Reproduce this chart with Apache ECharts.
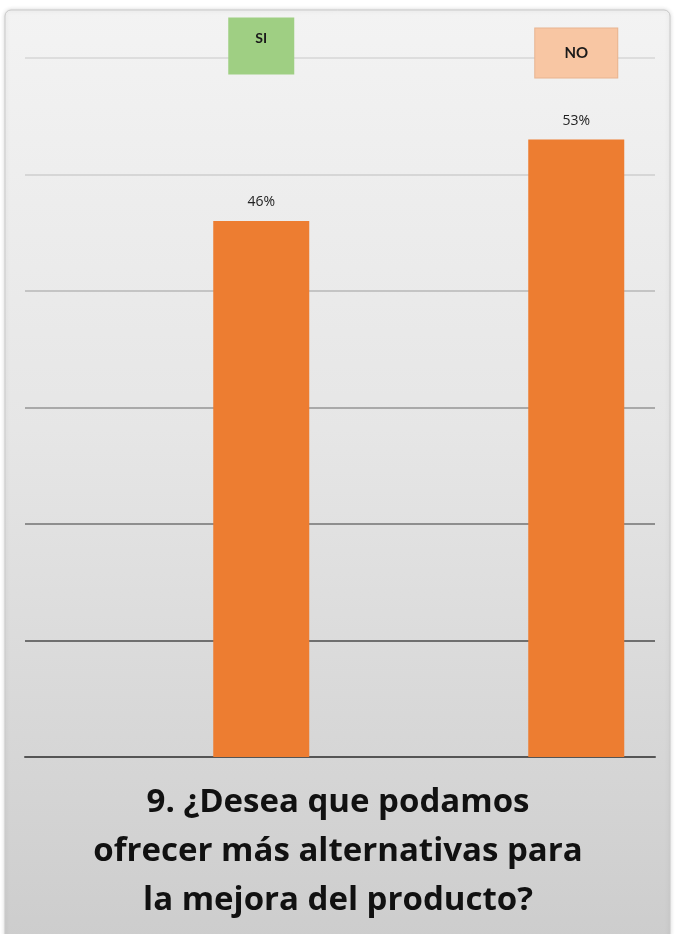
<!DOCTYPE html>
<html>
<head>
<meta charset="utf-8">
<script src="https://cdn.jsdelivr.net/npm/echarts@6/dist/echarts.min.js"></script>
<style>
html,body{margin:0;padding:0;background:#fff;}
#chart{width:676px;height:934px;}
</style>
</head>
<body>
<div id="chart"></div>
<script>
var categories = ['', 'SI', '', 'NO'];
var values = [null, 46, null, 53];
var yTicks = [0, 10, 20, 30, 40, 50, 60];
var titleText = '9. ¿Desea que podamos\nofrecer más alternativas para\nla mejora del producto?';

var chart = echarts.init(document.getElementById('chart'));
chart.setOption({
  animation: false,
  backgroundColor: '#ffffff',
  graphic: [{
    type: 'rect',
    z: -10,
    silent: true,
    shape: {x: 5, y: 10, width: 665, height: 930, r: 6},
    style: {
      fill: new echarts.graphic.LinearGradient(0, 0, 0, 1, [
        {offset: 0, color: '#f3f3f3'},
        {offset: 0.45, color: '#e6e6e6'},
        {offset: 1, color: '#cdcdcd'}
      ]),
      stroke: '#c9c9c9',
      lineWidth: 1,
      shadowBlur: 4,
      shadowColor: 'rgba(0,0,0,0.15)'
    }
  }],
  title: {
    text: titleText,
    left: 'center',
    top: 773,
    textStyle: {
      fontFamily: 'Open Sans',
      fontWeight: 'bold',
      fontSize: 33,
      lineHeight: 49,
      color: '#111'
    }
  },
  grid: {left: 25, right: 21, top: 58, bottom: 177, containLabel: false},
  xAxis: [{
    type: 'category',
    data: categories,
    position: 'bottom',
    axisLine: {show: true, lineStyle: {color: '#555', width: 2}},
    axisTick: {show: false},
    axisLabel: {show: false}
  }, {
    type: 'category',
    data: categories,
    position: 'top',
    axisLine: {show: false},
    axisTick: {show: false},
    axisLabel: {
      show: true,
      margin: -3,
      formatter: function (v) {
        if (v === 'SI') return '{si|SI}\n{gap| }';
        if (v === 'NO') return '{no|NO}';
        return '';
      },
      rich: {
        si: {
          backgroundColor: '#9fcf83',
          width: 66, align: 'center',
          padding: [14, 0, 29, 0], lineHeight: 14,
          fontFamily: 'Lato', fontWeight: 'bold', fontSize: 14, color: '#1a1a1a'
        },
        gap: {
          height: 8, lineHeight: 8, fontSize: 1
        },
        no: {
          backgroundColor: '#f8c6a3',
          width: 82, align: 'center',
          padding: [17, 0, 17, 0], lineHeight: 16,
          fontFamily: 'Lato', fontWeight: 'bold', fontSize: 15, color: '#1a1a1a',
          borderColor: '#e8b490', borderWidth: 1
        }
      }
    }
  }],
  yAxis: {
    type: 'value',
    min: yTicks[0],
    max: yTicks[yTicks.length - 1],
    interval: 10,
    axisLine: {show: false},
    axisTick: {show: false},
    axisLabel: {show: false},
    splitLine: {
      show: true,
      lineStyle: {
        color: ['#555555', '#6f6f6f', '#8e8e8e', '#a9a9a9', '#c4c4c4', '#d6d6d6', '#dddddd'],
        width: 2
      }
    }
  },
  series: [{
    type: 'bar',
    xAxisIndex: 0,
    data: values,
    barWidth: 96,
    itemStyle: {color: '#ed7d31'},
    label: {
      show: true,
      position: 'top',
      distance: 12,
      formatter: '{c}%',
      fontFamily: 'Open Sans',
      fontSize: 14,
      color: '#222'
    }
  }]
});
</script>
</body>
</html>
